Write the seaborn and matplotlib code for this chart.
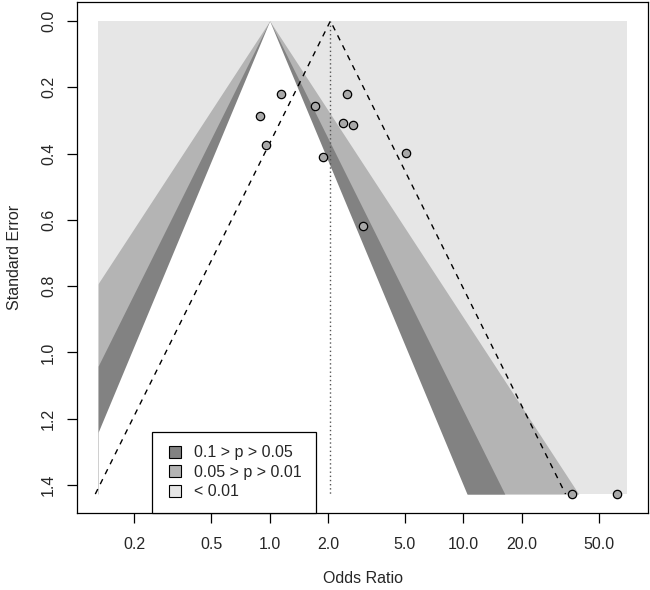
import numpy as np
import pandas as pd
import seaborn as sns
import matplotlib.pyplot as plt
from matplotlib.lines import Line2D

# study odds ratios and their standard errors
odds_ratio = [1.14, 2.50, 0.89, 1.72, 2.38, 2.71, 0.96, 1.89, 5.07, 3.05, 36.3, 62.4]
std_err = [0.22, 0.22, 0.287, 0.256, 0.307, 0.315, 0.375, 0.411, 0.399, 0.618, 1.427, 1.427]

pooled_or = 2.06
contour_labels = ["0.1 > p > 0.05", "0.05 > p > 0.01", "< 0.01"]
contour_colors = ["#828282", "#b4b4b4", "#e6e6e6"]

x_ticks = [0.2, 0.5, 1, 2, 5, 10, 20, 50]
x_ticklabels = ["0.2", "0.5", "1.0", "2.0", "5.0", "10.0", "20.0", "50.0"]
y_ticks = [0.0, 0.2, 0.4, 0.6, 0.8, 1.0, 1.2, 1.4]

sns.set_style("ticks")
plt.rcParams['font.family'] = ['Liberation Sans', 'DejaVu Sans']
plt.rcParams['font.size'] = 11.5

df = pd.DataFrame({"or": odds_ratio, "se": std_err})
se_max = df["se"].max()
x_lo, x_hi = 0.13, 70.0  # extent of shaded area

fig = plt.figure(figsize=(6.5, 5.9), dpi=100)
ax = fig.add_axes([77 / 650, 77 / 590, 571 / 650, 511 / 590])
ax.set_xscale("log")

# background = p < 0.01
ax.fill_between([x_lo, x_hi], 0, se_max, color=contour_colors[2], lw=0, zorder=0)
for z, col, extra in zip([2.576, 1.96, 1.645],
                         [contour_colors[1], contour_colors[0], "white"],
                         [0, 0, 0.006]):
    se_grid = np.linspace(0, se_max + extra, 400)
    left = np.clip(np.exp(-z * se_grid), x_lo, x_hi)
    right = np.clip(np.exp(z * se_grid), x_lo, x_hi)
    ax.fill_betweenx(se_grid, left, right, color=col, lw=0, zorder=1)

# pseudo confidence funnel around pooled estimate
ax.plot([pooled_or * np.exp(-1.96 * se_max), pooled_or, pooled_or * np.exp(1.96 * se_max)],
        [se_max, 0, se_max], ls=(0, (4, 4)), color="black", lw=1, zorder=2)
ax.plot([pooled_or, pooled_or], [0, se_max], ls=(0, (1, 2)), color="#555555", lw=1, zorder=2)

sns.scatterplot(data=df, x="or", y="se", ax=ax, s=36, color="#a8a8a8",
                edgecolor="black", linewidth=0.9, zorder=3, legend=False)

span = np.log(x_hi) - np.log(x_lo)
ax.set_xlim(np.exp(np.log(x_lo) - 0.04 * span), np.exp(np.log(x_hi) + 0.04 * span))
ax.set_ylim(se_max * 1.04, -se_max * 0.04)

ax.set_xticks(x_ticks)
ax.set_xticklabels(x_ticklabels)
ax.xaxis.set_minor_locator(plt.NullLocator())
ax.set_yticks(y_ticks)
ax.set_yticklabels([f"{v:.1f}" for v in y_ticks], rotation=90, va="center")
ax.tick_params(axis="both", length=7, width=0.9, color="black", pad=8)
ax.tick_params(axis="x", pad=10)
for sp in ax.spines.values():
    sp.set_color("black")
    sp.set_linewidth(0.9)
ax.set_xlabel("Odds Ratio", labelpad=14)
ax.set_ylabel("Standard Error", labelpad=14)

handles = [Line2D([], [], marker="s", ls="", markersize=9, markerfacecolor=c,
                  markeredgecolor="black", markeredgewidth=0.8) for c in contour_colors]
leg = ax.legend(handles, contour_labels, loc="lower left",
                bbox_to_anchor=((152 - 77) / 571, 0), borderaxespad=0,
                fancybox=False, edgecolor="black", framealpha=1,
                borderpad=0.85, labelspacing=0.28, handletextpad=0.6,
                handlelength=1.2)
leg.get_frame().set_linewidth(0.9)

fig.savefig("out.png", dpi=100)
